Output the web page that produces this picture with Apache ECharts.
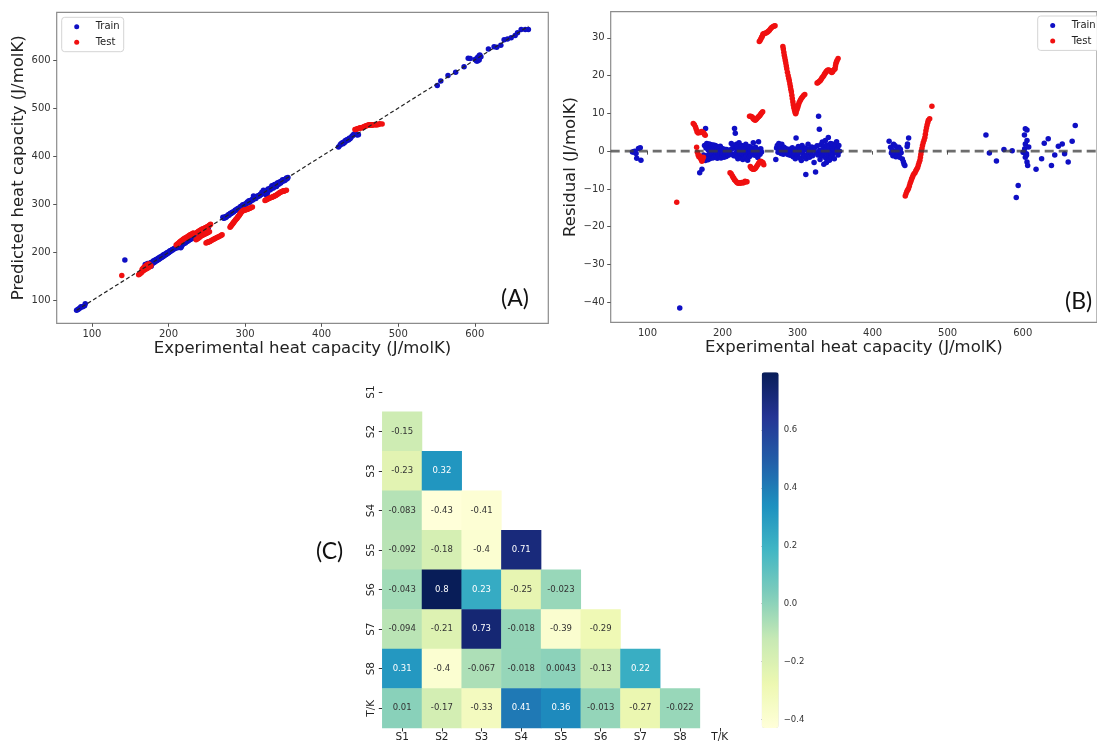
<!DOCTYPE html>
<html>
<head>
<meta charset="utf-8">
<script src="https://cdn.jsdelivr.net/npm/echarts@6/dist/echarts.min.js"></script>
<style>html,body{margin:0;padding:0;background:#fff}#c{width:1097px;height:743px}</style>
</head>
<body>
<div id="c"></div>
<script>
// ---------- DATA ----------
// [experimental heat capacity, residual] ; residual = experimental - predicted
const trainPoints = [
  [80,-0.2],[81.7,-0.2],[83,0],[84.8,-0.6],[85.7,-1.9],[88,0.7],[90.4,0.9],[91.3,-2.4],
  [143,-41.5],
  [169.6,-5.7],[172.6,-4.8],[175,-1.0],[176,1.5],[176.5,-2.0],[177,-2.5],[177.4,6.0],[178,0.8],[179,2.0],[179.5,-1.2],[180,1.8],
  [180.5,-2.3],[181,0.3],[181.5,1.6],[182,-0.8],[182.5,1.9],[183,-2.0],[183.5,0.5],[184,1.2],[184.5,-1.5],[185,1.7],
  [185.5,0.0],[186,-0.9],[186.5,1.4],[187,-1.8],[187.5,0.9],[188,1.6],[188.5,-0.4],[189,-1.6],[189.5,1.1],[190,0.2],
  [190.5,1.5],[191,-1.2],[191.5,0.6],[192,-0.3],[192.5,1.2],[193,-1.9],[193.5,0.4],[194,1.0],[194.5,-0.7],[195,-1.5],
  [195.5,0.8],[196,0.1],[196.5,-1.1],[197,1.3],[197.5,-0.5],[198,-1.8],[198.5,0.3],[199,-0.9],[199.5,0.7],[200,-1.3],
  [200.5,0.2],[201,-0.6],[202,-1.6],[202.5,0.5],[203,-1.0],[204,-0.2],[205,-1.4],[205.5,0.4],[206,-0.8],[207,-0.3],
  [208,-1.1],[209,0.2],[210,-0.6],
  [211.7,2.0],[212,0.5],[213,-0.8],[214,1.5],[215,-1.2],[216,6.0],[217,4.7],[217.5,0.8],[218,-0.5],[218.5,1.8],
  [219,-1.5],[219.5,0.2],[220,1.1],[220.5,-2.0],[221,0.6],[221.5,-0.9],[222,2.2],[222.5,0.0],[223,-1.3],[223.5,1.0],
  [224,-0.4],[224.5,0.7],[225,-1.8],[225.5,1.5],[226,0.3],[226.5,-0.7],[227,-2.2],[227.5,0.9],[228,-0.2],[228.5,1.3],
  [229,-1.0],[229.5,0.4],[230,-1.6],[230.5,0.1],[231,1.8],[231.5,-0.5],[232,-1.2],[232.5,0.6],[233,-0.1],[233.5,-2.4],
  [234,0.8],[234.5,-0.8],[235,0.2],[235.5,1.2],[236,-1.4],[236.5,-0.3],[237,0.5],[238,-1.0],[239,0.9],[240,-0.6],
  [241,2.2],[242,0.0],[243,-1.1],[244,1.0],[245,-0.4],[246,0.3],[247,-1.7],[248,2.5],[249,0.4],[250,-0.8],[251,0.6],[252,-0.2],
  [271,-2.2],[272,0.8],[273,1.5],[274,-0.3],[275,2.0],[276,0.4],[277,1.2],[278,-0.6],[279,1.8],[280,0.2],
  [281,-0.8],[282,1.0],[283,0.0],[284,-0.4],[285,0.6],[287,-0.9],[288,-0.2],[289,0.5],[290,-1.1],[291,0.3],
  [292,-0.6],[293,0.9],[294,-1.5],[295,0.1],[296,-0.5],[297,-2.0],[298,3.5],[299,0.6],[300,-1.0],[301,1.2],
  [302,-0.3],[303,-1.8],[304,0.4],[305,-2.5],[306,1.5],[307,-0.7],[308,0.2],[309,-1.4],[310,0.8],[311,-6.2],
  [311.5,-2.0],[312,0.5],[313,-0.9],[314,1.8],[315,-0.2],[316,-1.6],[317,0.6],[318,-0.5],[319,1.1],[320,-1.2],
  [321,0.3],[322,-3.0],[323,0.9],[324,-5.5],[325,-0.4],[326,1.4],[327,-1.0],[328,9.2],[329,5.8],[329.5,0.2],
  [330,-2.2],[331,1.7],[332,-0.6],[333,2.4],[333.5,-1.3],[334,0.5],[335,-3.5],[335.5,1.2],[336,-0.2],[337,2.8],
  [337.5,-1.8],[338,0.7],[338.5,-3.0],[339,1.6],[339.5,-0.7],[340,0.3],[341,3.6],[341.5,-1.2],[342,1.0],[342.5,-2.4],
  [343,0.1],[344,2.0],[344.5,-0.5],[345,-1.6],[346,0.8],[346.5,1.9],[347,-0.9],[348,0.4],[349,-2.0],[350,1.3],
  [351,-0.3],[352,2.5],[353,0.6],[354,-1.0],[355,1.5],[356,0.0],
  [422,2.6],[424,1.0],[425,-0.5],[426,0.2],[427,-1.2],[428,1.8],[429,-0.8],[430,1.4],[431,-1.5],[432,0.3],
  [433,-1.2],[434,-0.2],[435,1.0],[436,-1.6],[437,0.5],[438,-0.4],[439.6,-2.1],[441,-2.8],[441.8,-3.4],[443,-3.8],
  [446,1.2],[446.5,1.9],[448,3.5],
  [551,4.3],[555.6,-0.5],[565,-2.6],[575,0.4],[586,0.1],[591.4,-12.3],[594,-9.1],[600.5,-0.3],[601.4,-0.3],[602.3,4.3],
  [602.7,0.6],[603.5,5.9],[603.5,1.9],[603.5,-1.6],[605,-0.7],[605,-1.1],[605.7,5.6],[605.7,2.8],[605.7,-2.9],[606.6,-3.8],
  [608,1.1],[617.8,-4.8],[625.2,-2.0],[628.7,2.1],[634,3.3],[638.3,-3.8],[642.7,-1.0],[647.5,1.3],[652.7,1.9],[655.8,-0.7],
  [660.6,-2.9],[665.9,2.6],[670,6.8]
];
const testPoints = [
  [139,-13.5],
  [161,7.3],[162.5,7.0],[164,6.4],[165,5.8],[166,5.1],[167.5,4.8],[169,5.0],[170.5,4.9],[172,5.2],[173.5,5.0],[175,4.8],[176,4.4],[177,4.2],
  [165.5,1.0],[166.5,-0.3],[167.5,-1.0],[168.5,-1.5],[169.5,-1.2],[170.5,-1.8],[171.5,-2.2],[172.5,-2.7],[173.5,-2.1],[174.5,-1.6],
  [210,-5.7],[211.5,-6.0],[213,-6.5],[214,-6.9],[215,-7.2],[216,-7.6],[217,-7.8],[218.5,-8.1],[219.6,-8.4],[221,-8.5],
  [222.5,-8.4],[224,-8.5],[225.5,-8.3],[227,-8.4],[228,-8.4],[229,-8.2],[230,-8.0],[231.5,-8.1],[232.6,-8.1],
  [236,9.2],[237.5,9.2],[239,9.1],[240,8.9],[241,8.6],[242,8.4],[243.5,8.2],[244.5,8.4],[245.6,8.6],[247,8.9],
  [248,9.1],[249,9.3],[250,9.5],[251,9.8],[252,10.1],[253.5,10.4],
  [237,-4.1],[238,-4.4],[239,-4.6],[240,-4.7],[241,-4.8],[242,-4.8],[243.5,-4.6],[244.5,-4.3],[245.6,-4.0],[247,-3.6],
  [248,-3.3],[249,-3.0],[250,-2.8],[251,-2.7],[252,-2.8],[253,-3.0],[254,-3.1],[255,-3.6],
  [249,29.0],[250,29.3],[251,29.7],[252,30.1],[252.6,30.3],[253.5,30.7],[254,31.0],[255.5,31.1],[257,31.2],[258.5,31.3],
  [260,31.5],[261,31.7],[262.5,32.0],[264,32.4],[265.5,32.7],[267.4,33.0],[269,33.1],[270,33.2],
  [280.4,27.7],[281,27.0],[281.7,26.2],[282.3,25.4],[283,24.7],[283.7,24.0],[284.3,23.3],[285,22.5],[285.6,21.8],[286.5,20.9],
  [287.4,20.0],[288.2,19.3],[289,18.6],[289.7,17.8],[290.4,17.1],[291,16.4],[291.7,15.7],[292.4,14.8],[293,13.9],[293.7,13.1],
  [294.3,12.3],[295,11.5],[296,10.8],[296.7,10.3],[297.4,9.9],[298,10.2],[298.7,10.8],[299.5,11.2],[300.4,11.7],[301.2,12.3],
  [302,12.8],[303,13.2],[304,13.6],[305.2,14.0],[306.5,14.3],[308,14.7],[309.6,15.0],
  [326,18.0],[327,18.1],[328,18.3],[329.2,18.5],[330.4,18.7],[331.5,19.0],[332.6,19.4],[333.8,19.7],[335,20.0],[336,20.4],
  [337,20.7],[338,21.0],[339,21.2],[340,21.4],[341,21.5],[342.3,21.4],[343.5,21.2],[344.5,21.0],[345.6,20.8],[346.7,21.0],
  [347.8,21.4],[349,21.6],[350,21.8],[350.5,22.5],[351,23.1],[351.8,23.6],[352.6,24.0],[354,24.5],
  [443.5,-11.9],[444.5,-11.3],[445.6,-10.7],[446.7,-10.3],[447.8,-9.9],[449,-9.2],[450,-8.5],[451,-8.0],[452,-7.4],[453,-6.9],
  [454,-6.4],[455.2,-6.0],[456.5,-5.7],[457.6,-5.2],[458.7,-4.8],[460,-4.3],[461,-3.7],[462,-3.0],[463,-2.4],[463.7,-1.6],
  [464.3,-0.8],[465,0.0],[465.7,0.7],[466.5,1.5],[467.4,2.2],[468.5,2.9],[469.6,3.6],[470.3,4.5],[471,5.4],[471.8,6.2],
  [472.6,6.9],[473.5,7.6],[474.3,8.2],[476,8.6],[479,11.9]
];
const parityLine = [[80,80],[670,670]];
const capTicks = [100,200,300,400,500,600];
const residTicks = [-40,-30,-20,-10,0,10,20,30];

const corrLabels = ['S1','S2','S3','S4','S5','S6','S7','S8','T/K'];
// lower triangle, row i (i>=1) holds correlations with columns 0..i-1
const corrRows = [
  [],
  [-0.15],
  [-0.23, 0.32],
  [-0.083, -0.43, -0.41],
  [-0.092, -0.18, -0.4, 0.71],
  [-0.043, 0.8, 0.23, -0.25, -0.023],
  [-0.094, -0.21, 0.73, -0.018, -0.39, -0.29],
  [0.31, -0.4, -0.067, -0.018, 0.0043, -0.13, 0.22],
  [0.01, -0.17, -0.33, 0.41, 0.36, -0.013, -0.27, -0.022]
];
const cbarTicks = [-0.4,-0.2,0.0,0.2,0.4,0.6];
const YlGnBu = ['#ffffd9','#edf8b1','#c7e9b4','#7fcdbb','#41b6c4','#1d91c0','#225ea8','#253494','#081d58'];

// ---------- BUILD ----------
const FONT = 'DejaVu Sans';
const TXT = '#222';
const FRAME = '#8c8c8c';
const BLUE = '#0f0fc4';
const RED = '#f01010';
const minus = v => (v < 0 ? '\u2212' : '') + Math.abs(v);

const predTrain = trainPoints.map(p => [p[0], +(p[0] - p[1]).toFixed(2)]);
const predTest = testPoints.map(p => [p[0], +(p[0] - p[1]).toFixed(2)]);

const heatData = [];
corrRows.forEach((row, i) => row.forEach((v, j) => {
  heatData.push({ value: [j, i, v], label: { color: v > 0.15 ? '#ffffff' : '#333333' } });
}));
const vmin = -0.43, vmax = 0.8;

function valAxis(gridIndex, min, max, ticks, fmt, name, nameGap) {
  return {
    type: 'value', gridIndex, min, max, name, nameLocation: 'middle', nameGap,
    nameTextStyle: { fontFamily: FONT, fontSize: 16.5, color: TXT, verticalAlign: 'middle' },
    axisLine: { show: false },
    axisTick: { show: true, length: 3.5, lineStyle: { color: '#555' }, customValues: ticks },
    axisLabel: { fontFamily: FONT, fontSize: 10, color: '#333', margin: 6, customValues: ticks, formatter: fmt },
    splitLine: { show: false }
  };
}

function legendAt(left, top) {
  return { orient: 'vertical', left, top, data: ['Train', 'Test'],
    icon: 'circle', itemWidth: 28, itemHeight: 5, itemGap: 0,
    padding: [1.6, 4, 1.6, 12.5], borderColor: '#d4d4d4', borderWidth: 1, borderRadius: 3,
    backgroundColor: 'rgba(255,255,255,0.85)',
    textStyle: { fontFamily: FONT, fontSize: 10, color: TXT, lineHeight: 15.6 } };
}

const pointStyle = c => ({ color: c, opacity: 1 });

const option = {
  backgroundColor: '#fff',
  animation: false,
  textStyle: { fontFamily: FONT },
  grid: [
    { left: 56.7, top: 12.3, width: 491.6, height: 311, show: true, borderColor: FRAME, borderWidth: 1.2 },
    { left: 610.7, top: 11.7, width: 497, height: 310.6, show: true, borderColor: FRAME, borderWidth: 1.2 },
    { left: 382.3, top: 372.2, width: 357.3, height: 355.8 },
    { left: 761.7, top: 372.3, width: 17, height: 355.7 }
  ],
  xAxis: [
    valAxis(0, 54, 696, capTicks, v => String(v), 'Experimental heat capacity (J/molK)', 24),
    valAxis(1, 51, 699, capTicks, v => String(v), 'Experimental heat capacity (J/molK)', 24),
    { type: 'category', gridIndex: 2, data: corrLabels,
      axisLine: { show: false }, splitLine: { show: false },
      axisTick: { show: true, alignWithLabel: true, length: 3.5, lineStyle: { color: '#333' } },
      axisLabel: { fontFamily: FONT, fontSize: 10.5, color: TXT, margin: 4 } },
    { type: 'value', gridIndex: 3, min: 0, max: 1, show: false }
  ],
  yAxis: [
    valAxis(0, 53, 699, capTicks, v => String(v), 'Predicted heat capacity (J/molK)', 36.7),
    valAxis(1, -45.3, 36.9, residTicks, minus, 'Residual (J/molK)', 39.5),
    { type: 'category', gridIndex: 2, data: corrLabels, inverse: true,
      axisLine: { show: false }, splitLine: { show: false },
      axisTick: { show: true, alignWithLabel: true, length: 3.5, lineStyle: { color: '#333' } },
      axisLabel: { fontFamily: FONT, fontSize: 10.5, color: TXT, margin: 6, rotate: 90 } },
    { type: 'value', gridIndex: 3, min: vmin, max: vmax, position: 'right',
      axisLine: { show: false }, splitLine: { show: false },
      axisTick: { show: true, length: 3, lineStyle: { color: '#555' }, customValues: cbarTicks },
      axisLabel: { fontFamily: FONT, fontSize: 8.5, color: '#333', margin: 5, customValues: cbarTicks,
        formatter: v => (v < 0 ? '\u2212' : '') + Math.abs(v).toFixed(1) } }
  ],
  legend: [ legendAt(61.7, 17.3), legendAt(1037.7, 16) ],
  visualMap: {
    type: 'continuous', seriesIndex: 6, min: vmin, max: vmax,
    left: 761.7, top: 372.3, itemWidth: 17, itemHeight: 355.7, padding: 0,
    calculable: false, showLabel: false, text: null, hoverLink: false,
    inRange: { color: YlGnBu }
  },
  series: [
    { name: 'Train', type: 'scatter', xAxisIndex: 0, yAxisIndex: 0, data: predTrain, symbolSize: 5.5,
      itemStyle: pointStyle(BLUE), emphasis: { disabled: true }, z: 2 },
    { name: 'Test', type: 'scatter', xAxisIndex: 0, yAxisIndex: 0, data: predTest, symbolSize: 5.5,
      itemStyle: pointStyle(RED), emphasis: { disabled: true }, z: 3 },
    { type: 'line', xAxisIndex: 0, yAxisIndex: 0, data: parityLine, symbol: 'none',
      lineStyle: { color: '#222', width: 1.2, type: [4, 2.5] }, z: 4, silent: true },
    { name: 'Train', type: 'scatter', xAxisIndex: 1, yAxisIndex: 1, data: trainPoints, symbolSize: 5.5,
      itemStyle: pointStyle(BLUE), emphasis: { disabled: true }, z: 2 },
    { name: 'Test', type: 'scatter', xAxisIndex: 1, yAxisIndex: 1, data: testPoints, symbolSize: 5.5,
      itemStyle: pointStyle(RED), emphasis: { disabled: true }, z: 3 },
    { type: 'line', xAxisIndex: 1, yAxisIndex: 1, data: [[51, 0], [699, 0]], symbol: 'none',
      lineStyle: { color: 'rgba(60,60,60,0.75)', width: 2.6, type: [9, 5] }, z: 4, silent: true },
    { type: 'heatmap', xAxisIndex: 2, yAxisIndex: 2, data: heatData,
      label: { show: true, fontFamily: FONT, fontSize: 8.5, formatter: p => String(p.value[2]) },
      emphasis: { disabled: true }, silent: true },
    { type: 'scatter', xAxisIndex: 3, yAxisIndex: 3, data: [], silent: true }
  ],
  graphic: [
    { type: 'text', left: 501, top: 287, style: { text: '(A)', fontFamily: 'Lato', fontSize: 23, fill: '#111' } },
    { type: 'text', left: 1065, top: 290, style: { text: '(B)', fontFamily: 'Lato', fontSize: 23, fill: '#111' } },
    { type: 'text', left: 316, top: 540, style: { text: '(C)', fontFamily: 'Lato', fontSize: 23, fill: '#111' } }
  ]
};

const chart = echarts.init(document.getElementById('c'), null, { renderer: 'canvas' });
chart.setOption(option);
</script>
</body>
</html>
